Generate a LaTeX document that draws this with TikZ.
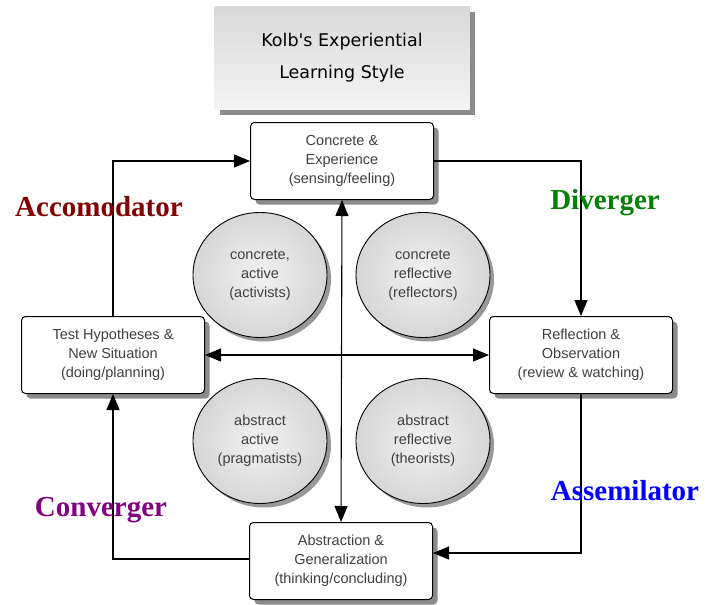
\documentclass[tikz,border=0pt]{standalone}
\usepackage{fontspec}
\setmainfont{Liberation Sans}
\newfontfamily\labelfont{Liberation Serif}
\newfontfamily\titlefont{DejaVu Sans}
\usetikzlibrary{arrows.meta,shapes.geometric,shadows}
\definecolor{accred}{HTML}{800000}
\definecolor{divgreen}{HTML}{008000}
\definecolor{assblue}{HTML}{0000FF}
\definecolor{conpurple}{HTML}{800080}
\begin{document}
\begin{tikzpicture}[x=1pt,y=-1pt,every node/.style={font=\fontsize{14.5}{19}\selectfont,align=center,text=black!75},
caja/.style={draw,line width=1pt,fill=white,rounded corners=4pt,minimum width=183pt,minimum height=77pt,inner sep=2pt,drop shadow={shadow xshift=5pt,shadow yshift=-5pt,fill=black!45,opacity=1}},
bola/.style={ellipse,draw,line width=0.9pt,minimum width=134pt,minimum height=125pt,inner sep=0pt,shading=radial,inner color=gray!10,outer color=gray!32,drop shadow={shadow xshift=4pt,shadow yshift=-4pt,fill=black!40,opacity=1}},
estilo/.style={font=\labelfont\bfseries\fontsize{29}{32}\selectfont},
flecha/.style={-{Triangle[length=16pt,width=13pt]},line width=1.1pt},
>={Triangle[length=16pt,width=13pt]}]
\useasboundingbox (0,0) rectangle (713,605);
\node[minimum width=255pt,minimum height=103pt,top color=gray!30,bottom color=gray!8,font=\titlefont\fontsize{17.5}{32}\selectfont,text=black,drop shadow={shadow xshift=5pt,shadow yshift=-5pt,fill=black!45,opacity=1}] (titulo) at (342,58) {Kolb's Experiential\\Learning Style};
\node[caja] (ce) at (342,161) {Concrete \&\\Experience\\(sensing/feeling)};
\node[caja] (ro) at (581,355) {Reflection \&\\Observation\\(review \& watching)};
\node[caja] (ag) at (341,561) {Abstraction \&\\Generalization\\(thinking/concluding)};
\node[caja] (th) at (113,355) {Test Hypotheses \&\\New Situation\\(doing/planning)};
\node[bola] (ca) at (260,275) {concrete,\\active\\(activists)};
\node[bola] (cr) at (423,275) {concrete\\reflective\\(reflectors)};
\node[bola] (aa) at (260,441) {abstract\\active\\(pragmatists)};
\node[bola] (ar) at (423,441) {abstract\\reflective\\(theorists)};
\draw[<->,line width=1.1pt] (ce.south) -- (ag.north);\draw[<->,line width=1.1pt] (th.east) -- (ro.west);
\draw[flecha] (th.north) |- (ce.west);\draw[flecha] (ce.east) -| (ro.north);\draw[flecha] (ro.south) |- ([yshift=8pt]ag.east);\draw[flecha] ([yshift=2pt]ag.west) -| (th.south);
\node[estilo,text=accred] (acc) at (99,207) {Accomodator};
\node[estilo,text=divgreen] (div) at (605,203) {Diverger};
\node[estilo,text=assblue] (asi) at (625,491) {Assemilator};
\node[estilo,text=conpurple] (con) at (101,510) {Converger};
\end{tikzpicture}
\end{document}
